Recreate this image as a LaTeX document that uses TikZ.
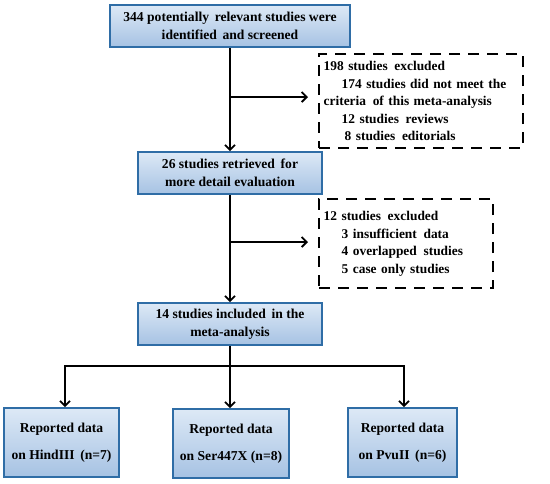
\documentclass[tikz,border=0pt]{standalone}
\usepackage{fontspec}
\setmainfont{Liberation Serif}
\usetikzlibrary{arrows.meta,shadows}
\definecolor{bord}{HTML}{2F6DA6}
\definecolor{topc}{HTML}{DDE9F6}
\definecolor{botc}{HTML}{A6C2E3}
\tikzset{
  bluebox/.style={draw=bord, line width=1.6pt, top color=topc, bottom color=botc,
    align=center, inner sep=2pt, font=\fontsize{13.6}{17.5}\selectfont\bfseries,
    drop shadow={shadow xshift=1pt, shadow yshift=-1pt, opacity=0.35}},
  exbox/.style={draw=black, line width=2.4pt, dash pattern=on 11pt off 8pt, align=left,
    inner sep=3pt, font=\fontsize{13.4}{17.5}\selectfont\bfseries},
  arr/.style={line width=1.8pt, -{Straight Barb[length=5pt,width=10pt,line width=1.8pt]}},
  ln/.style={line width=1.8pt}
}
\begin{document}
\begin{tikzpicture}[x=1pt,y=-1pt]
\useasboundingbox (0,0) rectangle (550,483);
\node[bluebox, minimum width=240pt, minimum height=42pt] (b1) at (230,26)
  {344 potentially\, relevant studies were\\identified\, and screened};
\node[bluebox, minimum width=184pt, minimum height=42pt] (b2) at (230,173)
  {26 studies retrieved\, for\\more detail evaluation};
\node[bluebox, minimum width=184pt, minimum height=42pt] (b3) at (230,324)
  {14 studies included\, in the\\meta-analysis};
\node[exbox, minimum width=204pt, minimum height=94pt, anchor=north west, text width=195pt] (e1) at (318,53)
  {198 studies\, excluded\\\hspace*{18pt}174 studies did not meet the\\criteria\, of this meta-analysis\\\hspace*{18pt}12 studies\, reviews\\\hspace*{21pt}8 studies\, editorials};
\node[exbox, minimum width=174pt, minimum height=89pt, anchor=north west, text width=165pt] (e2) at (318,198)
  {12 studies\, excluded\\\hspace*{18pt}3 insufficient\, data\\\hspace*{18pt}4 overlapped\, studies\\\hspace*{18pt}5 case only studies};
\node[bluebox, minimum width=115pt, minimum height=69pt] (c1) at (61.5,442.5)
  {Reported data\\[10pt]on HindIII\, (n=7)};
\node[bluebox, minimum width=116pt, minimum height=69pt] (c2) at (231,443.5)
  {Reported data\\[10pt]on Ser447X (n=8)};
\node[bluebox, minimum width=109pt, minimum height=69pt] (c3) at (402.5,442.5)
  {Reported data\\[10pt]on PvuII\, (n=6)};
\draw[arr] (b1.south) -- (b2.north);
\draw[arr] (b2.south) -- (b3.north);
\coordinate (s1) at (230,97);
\coordinate (s2) at (230,242);
\draw[arr, shorten >=10pt] (s1) -- (s1 -| e1.west);
\draw[arr, shorten >=10pt] (s2) -- (s2 -| e2.west);
\coordinate (m) at (230,366);
\coordinate (l) at (65,366);
\coordinate (r) at (404,366);
\draw[ln] (b3.south) -- (m);
\draw[ln, line cap=rect] (l) -- (r);
\draw[arr] (l) -- (l |- c1.north);
\draw[arr] (m) -- (m |- c2.north);
\draw[arr] (r) -- (r |- c3.north);
\end{tikzpicture}
\end{document}
